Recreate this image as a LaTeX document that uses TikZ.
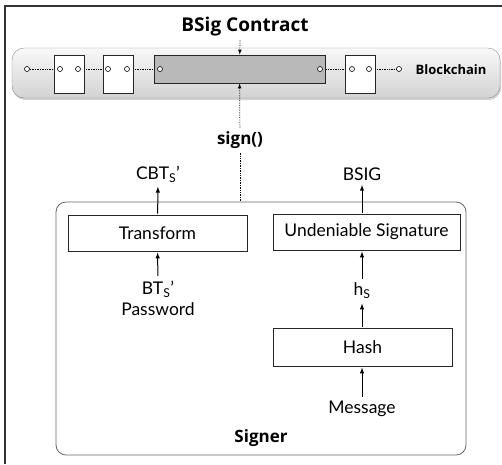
\documentclass[tikz,border=0pt]{standalone}
\usepackage{fontspec}
\setmainfont{Lato}
\newfontfamily\headfont{Open Sans}
\usetikzlibrary{arrows, shadows, positioning}

\begin{document}
\begin{tikzpicture}[
    x = 1pt, y = -1pt,
    >=latex,
    font = \fontsize{17.5}{20}\selectfont,
    ]

    \tikzstyle{func}=[
    draw = black!85,
    line width = 1pt,
    fill = white,
    minimum width = 179pt,
    minimum height = 36pt,
    inner sep = 0pt,
    ]
    \tikzstyle{block}=[draw = black!85, line width = 1pt, fill = white, minimum width = 30pt, minimum height = 38pt]
    \tikzstyle{port}=[circle, draw, fill = white, inner sep = 0pt, minimum size = 5pt, line width = 0.6pt]
    \tikzstyle{link}=[densely dotted, line width = 0.7pt]
    \tikzstyle{flow}=[->, line width = 1pt, shorten <= 1pt, shorten >= 1pt]
    \tikzstyle{title}=[font = \headfont\fontsize{17}{19}\selectfont\bfseries]

    \useasboundingbox (0,0) rectangle (502,464);
    \draw[line width = 1.2pt, black!80] (5,464) -- (5,6) -- (502,6);

    % blockchain band
    \path[rounded corners = 12pt, draw = black!45, top color = gray!5, bottom color = gray!35,
          drop shadow = {opacity = 0.35, shadow xshift = 1pt, shadow yshift = -2pt}]
        (12,48) rectangle (500,98);

    \node[port] (p0) at (27,69) {};
    \node[port] (p1a) at (60,69) {};
    \node[port] (p1b) at (78,69) {};
    \node[port] (p2a) at (108,69) {};
    \node[port] (p2b) at (127,69) {};
    \node[port] (p3a) at (160,69) {};
    \node[port] (p3b) at (320,69) {};
    \node[port] (p4a) at (352,69) {};
    \node[port] (p4b) at (369,69) {};
    \node[port] (p5) at (399,69) {};

    \draw[link] (p0) -- (p1a);
    \draw[link] (p1b) -- (p2a);
    \draw[link] (p2b) -- (p3a);
    \draw[link] (p3b) -- (p4a);
    \draw[link] (p4b) -- (p5);

    \node[block] (b1) at (69,74) {};
    \node[block] (b2) at (118,74) {};
    \node[block] (b3) at (360.5,74) {};
    \node[draw = black!85, line width = 1pt, fill = gray!55, minimum width = 171pt, minimum height = 28pt] (contract) at (239.5,69) {};

    \foreach \p in {p1a, p1b, p2a, p2b, p3a, p3b, p4a, p4b}
        \node[port] at (\p) {};

    \node[title, font = \headfont\fontsize{13}{15}\selectfont\bfseries] (chain) at (451,70) {Blockchain};
    \node[title, font = \headfont\fontsize{19}{21}\selectfont\bfseries] (bsig) at (245,27) {BSig Contract};
    \coordinate (ctop) at (240,40);
    \draw[link, ->] (ctop) -- (contract);

    % signer
    \node[draw = black!60, line width = 0.8pt, rounded corners = 10pt, minimum width = 410pt,
          minimum height = 253pt] (signer) at (261,328.5) {};
    \node[title] at (261,438) {Signer};

    \node[title] (sign) at (240,140) {sign()};
    \coordinate (sbot) at (240,201);
    \draw[link] (sbot) -- (sign);
    \draw[link, ->] (sign) -- (contract);

    \node[func] (transform) at (157.5,233) {Transform};
    \node[func, minimum width = 187pt] (usig) at (366.5,232) {Undeniable Signature};
    \node[func, minimum height = 38pt] (hash) at (362.5,347) {Hash};

    \node (cbt) at (158,174) {CBT\textsubscript{S}'};
    \node (bsigout) at (362,174) {BSIG};
    \node[align = center, font = \fontsize{17.5}{21}\selectfont] (bts) at (158,298) {BT\textsubscript{S}'\\Password};
    \node (hs) at (362,291) {h\textsubscript{S}};
    \node (msg) at (362,409) {Message};

    \path[flow] (transform) edge (cbt);
    \path[flow] (usig.north -| bsigout) edge (bsigout);
    \path[flow] (bts) edge (transform);
    \path[flow] (hs) edge (usig.south -| hs);
    \path[flow] (hash.north -| hs) edge (hs);
    \path[flow] (msg) edge (hash.south -| msg);
\end{tikzpicture}
\end{document}
